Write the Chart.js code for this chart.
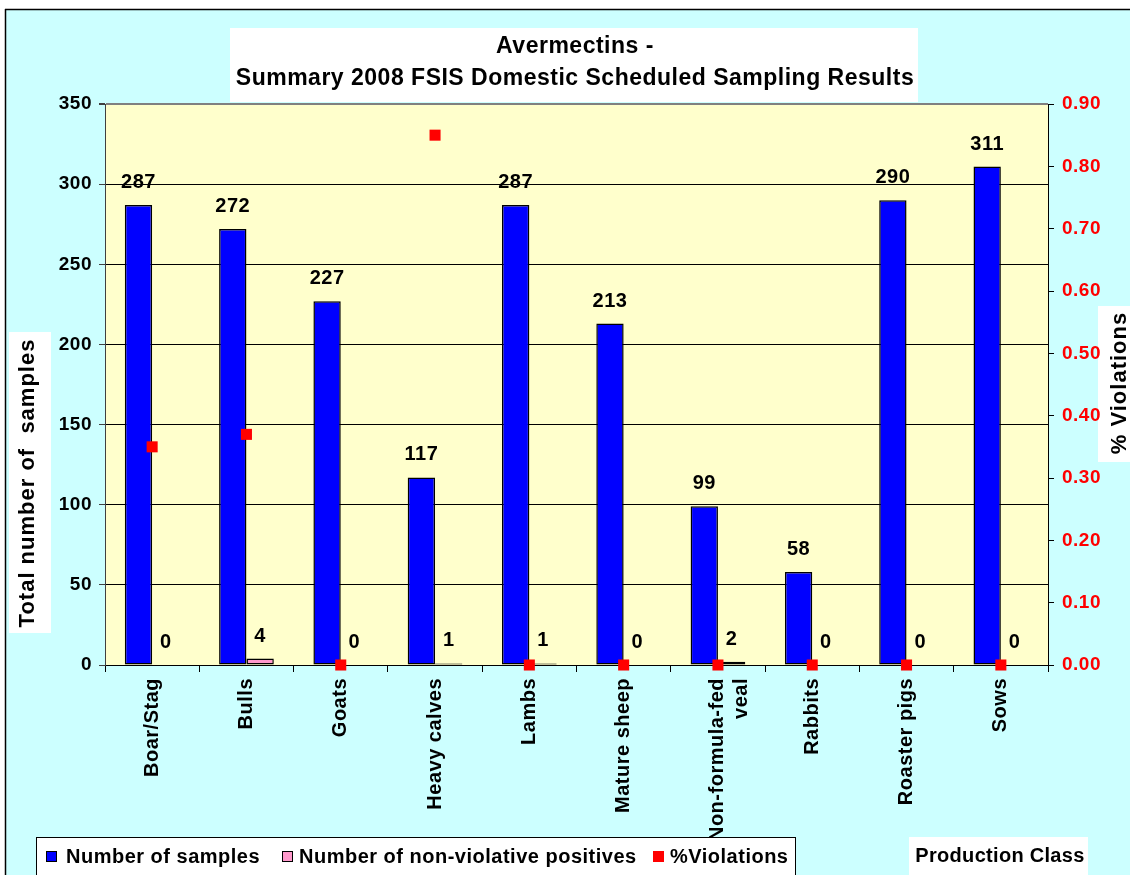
<!DOCTYPE html>
<html>
<head>
<meta charset="utf-8">
<script src="https://cdn.jsdelivr.net/npm/chart.js@4.4.1/dist/chart.umd.min.js"></script>
<style>
html,body{margin:0;padding:0;background:#fff;overflow:hidden;}
canvas{display:block;}
</style>
</head>
<body>
<canvas id="chart" width="1130" height="875"></canvas>
<script>
// ---- data ----
const categories = ['Boar/Stag', 'Bulls', 'Goats', 'Heavy calves', 'Lambs', 'Mature sheep', ['Non-formula-fed', 'veal'], 'Rabbits', 'Roaster pigs', 'Sows'];
const numberOfSamples = [287, 272, 227, 117, 287, 213, 99, 58, 290, 311];
const nonViolativePositives = [0, 4, 0, 1, 1, 0, 2, 0, 0, 0];
const pctViolations = [0.35, 0.37, 0, 0.85, 0, 0, 0, 0, 0, 0];
const titleLines = ['Avermectins -', 'Summary 2008 FSIS Domestic Scheduled Sampling Results'];
const leftAxisTitle = 'Total number of  samples';
const rightAxisTitle = '% Violations';
const xAxisTitle = 'Production Class';
const legendLabels = ['Number of samples', 'Number of non-violative positives', '%Violations'];

// ---- styles ----
const FAMILY = '"Liberation Sans", Arial, Helvetica, sans-serif';
const C_BG = '#CCFFFF', C_PLOT = '#FFFFCC', C_BLUE = '#0000FF', C_PINK = '#FF99CC', C_RED = '#FF0000';

const decorPlugin = {
  id: 'decor',
  beforeDraw(chart) {
    const { ctx, chartArea: a, width: W, height: H } = chart;
    ctx.save();
    ctx.fillStyle = '#fff';
    ctx.fillRect(0, 0, W, H);
    ctx.fillStyle = C_BG;
    ctx.fillRect(5, 9, W - 5, H - 9);
    ctx.strokeStyle = '#000';
    ctx.lineWidth = 1.5;
    ctx.beginPath();
    ctx.moveTo(5, 9.5); ctx.lineTo(W, 9.5);
    ctx.moveTo(5.5, 9); ctx.lineTo(5.5, H);
    ctx.stroke();
    // plot area
    ctx.fillStyle = C_PLOT;
    ctx.fillRect(a.left, a.top, a.right - a.left, a.bottom - a.top);
    // title
    ctx.fillStyle = '#fff';
    ctx.fillRect(230, 28, 688, 74);
    ctx.fillStyle = '#000';
    ctx.textAlign = 'center';
    ctx.textBaseline = 'alphabetic';
    ctx.font = 'bold 23px ' + FAMILY;
    ctx.letterSpacing = '0.5px';
    ctx.fillText(titleLines[0], 575, 53);
    ctx.fillText(titleLines[1], 575, 85);
    // left axis title
    ctx.fillStyle = '#fff';
    ctx.fillRect(9, 332, 42, 301);
    ctx.save();
    ctx.translate(34, 483);
    ctx.rotate(-Math.PI / 2);
    ctx.fillStyle = '#000';
    ctx.font = 'bold 22px ' + FAMILY;
    ctx.letterSpacing = '1px';
    ctx.fillText(leftAxisTitle, 0, 0);
    ctx.restore();
    // right axis title
    ctx.fillStyle = '#fff';
    ctx.fillRect(1098, 306, 32, 156);
    ctx.save();
    ctx.translate(1126, 383);
    ctx.rotate(-Math.PI / 2);
    ctx.fillStyle = '#000';
    ctx.font = 'bold 22px ' + FAMILY;
    ctx.letterSpacing = '1px';
    ctx.fillText(rightAxisTitle, 0, 0);
    ctx.restore();
    ctx.restore();
    ctx.letterSpacing = '0.5px';
  }
};

const valueLabelPlugin = {
  id: 'valueLabels',
  afterDatasetsDraw(chart) {
    const ctx = chart.ctx;
    ctx.save();
    ctx.font = 'bold 20px ' + FAMILY;
    ctx.letterSpacing = '0.5px';
    ctx.fillStyle = '#000';
    ctx.textAlign = 'center';
    ctx.textBaseline = 'alphabetic';
    [0, 1].forEach(di => {
      const meta = chart.getDatasetMeta(di);
      const vals = chart.data.datasets[di].data;
      meta.data.forEach((bar, i) => {
        ctx.fillText(String(vals[i]), bar.x, bar.y - 17);
      });
    });
    ctx.restore();
  }
};

const legendPlugin = {
  id: 'customLegend',
  afterDraw(chart) {
    const { ctx, width: W, height: H } = chart;
    ctx.save();
    ctx.letterSpacing = '0.5px';
    // legend box
    ctx.fillStyle = '#fff';
    ctx.fillRect(36, 837, 759, H - 837 + 2);
    ctx.strokeStyle = '#000';
    ctx.lineWidth = 1;
    ctx.strokeRect(36.5, 837.5, 759, H - 837 + 5);
    const items = [
      { x: 46, tx: 66, color: C_BLUE, border: true },
      { x: 282, tx: 299, color: C_PINK, border: true },
      { x: 653, tx: 670, color: C_RED, border: false }
    ];
    ctx.font = 'bold 20px ' + FAMILY;
    ctx.textAlign = 'left';
    ctx.textBaseline = 'middle';
    items.forEach((it, i) => {
      ctx.fillStyle = it.color;
      ctx.fillRect(it.x, 851, 11, 11);
      if (it.border) { ctx.strokeStyle = '#000'; ctx.strokeRect(it.x + 0.5, 851.5, 10, 10); }
      ctx.fillStyle = '#000';
      ctx.fillText(legendLabels[i], it.tx, 857);
    });
    // x axis title
    ctx.fillStyle = '#fff';
    ctx.fillRect(909, 837, 179, H - 837);
    ctx.fillStyle = '#000';
    ctx.font = 'bold 20px ' + FAMILY;
    ctx.letterSpacing = '0.3px';
    ctx.textAlign = 'center';
    ctx.fillText(xAxisTitle, 1000, 856);
    ctx.restore();
  }
};

const tickFont = { family: FAMILY, size: 19, weight: 'bold' };

new Chart(document.getElementById('chart'), {
  type: 'bar',
  data: {
    labels: categories,
    datasets: [
      { label: legendLabels[0], data: numberOfSamples, backgroundColor: C_BLUE, borderColor: '#000', borderWidth: 1.5, borderSkipped: false, yAxisID: 'y', order: 2 },
      { label: legendLabels[1], data: nonViolativePositives, backgroundColor: C_PINK, borderColor: '#000', borderWidth: 1.5, borderSkipped: false, yAxisID: 'y', order: 2 },
      { type: 'line', label: legendLabels[2], data: pctViolations, yAxisID: 'y1', showLine: false,
        pointStyle: 'rect', pointRadius: 7.8, pointHoverRadius: 7.8, pointBorderWidth: 0,
        backgroundColor: C_RED, borderColor: C_RED, clip: false, order: 0 }
    ]
  },
  options: {
    responsive: false,
    animation: false,
    events: [],
    categoryPercentage: 0.58,
    barPercentage: 1.0,
    layout: { padding: { top: 104, left: 0, right: 0, bottom: 0 } },
    plugins: { legend: { display: false }, title: { display: false }, tooltip: { enabled: false } },
    scales: {
      x: {
        offset: true,
        grid: { display: true, drawOnChartArea: false, drawTicks: true, tickLength: 7, offset: true, color: '#000', lineWidth: 1 },
        border: { display: true, color: '#000', width: 1 },
        ticks: { autoSkip: false, minRotation: 90, maxRotation: 90, padding: 6, color: '#000', font: { family: FAMILY, size: 20, weight: 'bold' } },
        afterFit(s) { s.height = 210; }
      },
      y: {
        position: 'left',
        min: 0, max: 350,
        ticks: { stepSize: 50, color: '#000', padding: 7, font: tickFont },
        grid: { color: (c) => c.tick && c.tick.value === 350 ? '#808080' : '#000', lineWidth: (c) => c.tick && c.tick.value === 350 ? 2 : 1, tickLength: 6, tickColor: '#404040' },
        border: { display: true, color: '#404040', width: 1 },
        afterFit(s) { s.width = 105; }
      },
      y1: {
        position: 'right',
        min: 0, max: 0.9,
        ticks: { stepSize: 0.1, color: C_RED, padding: 8, font: tickFont, callback: (v) => Number(v).toFixed(2) },
        grid: { drawOnChartArea: false, tickLength: 6, color: '#000' },
        border: { display: true, color: '#000', width: 1 },
        afterFit(s) { s.width = 82; }
      }
    }
  },
  plugins: [decorPlugin, valueLabelPlugin, legendPlugin]
});
</script>
</body>
</html>
